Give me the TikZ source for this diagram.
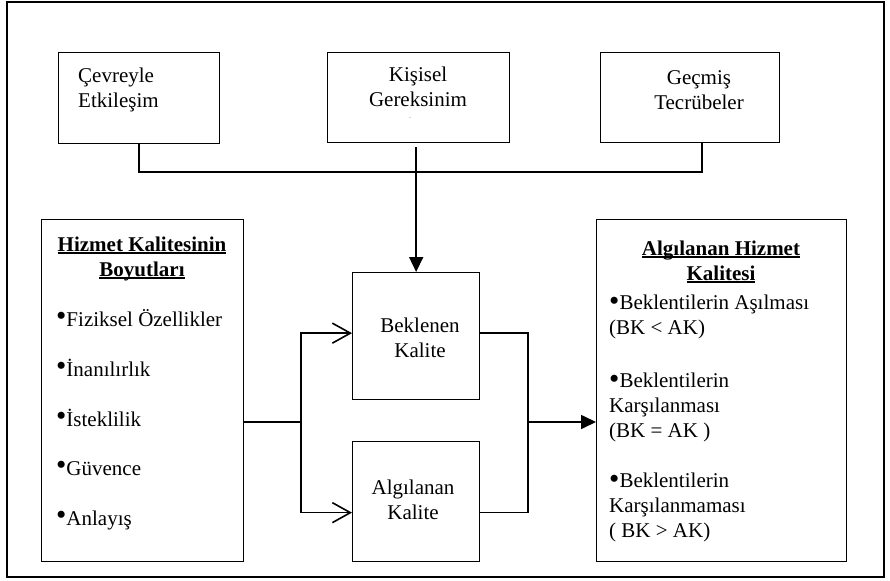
\documentclass[tikz,border=0pt]{standalone}
\usepackage{fontspec}
\setmainfont{Liberation Serif}
\usetikzlibrary{arrows.meta}
\tikzset{
  frame/.style={draw=black,line width=2pt},
  box/.style={draw=black,line width=1.3pt,rectangle,inner sep=0pt,anchor=north west},
  link/.style={draw=black,line width=1.6pt},
  label/.style={inner sep=0pt,font=\fontsize{21}{25}\selectfont},
  title/.style={inner sep=0pt,font=\fontsize{21}{25}\selectfont\bfseries},
  closedtip/.style={-{Triangle[length=15pt,width=14pt]}},
  opentip/.style={-{Straight Barb[length=18pt,width=20pt]}},
}
\newcommand\headul[1]{\setbox0=\hbox{#1}\rlap{\rule[-2.5pt]{\wd0}{1.3pt}}\box0}
\newcommand\itemdot{\raisebox{1pt}{\scalebox{1.4}{•}}}
\newcommand\resdot{\raisebox{-1.5pt}{\scalebox{1.4}{•}}}

\begin{document}
\begin{tikzpicture}[x=1pt,y=-1pt]
  \useasboundingbox (0,0) rectangle (890,580);
  \draw[frame] (7,2) rectangle (884,577);

  % top row (base anchor = last line)
  \node[box,minimum width=161pt,minimum height=91pt] (box_env) at (58,52) {};
  \node[box,minimum width=182pt,minimum height=90pt] (box_need) at (327,52) {};
  \node[box,minimum width=179pt,minimum height=90pt] (box_past) at (600,52) {};
  \node[label,anchor=base west,align=left] (txt_env) at (78,108) {Çevreyle\\Etkileşim};
  \node[label,anchor=base,align=center] (txt_need) at (418,107) {Kişisel\\Gereksinim};
  \node[inner sep=0pt,font=\fontsize{6}{6}\selectfont] (txt_need_dot) at (410,118) {.};
  \node[label,anchor=base,align=center] (txt_past) at (699,110) {Geçmiş\\Tecrübeler};

  % side boxes
  \node[box,minimum width=202pt,minimum height=342pt] (dims) at (41,219) {};
  \node[box,minimum width=250pt,minimum height=342pt] (result) at (596,219) {};

  % middle boxes
  \node[box,minimum width=127pt,minimum height=127pt] (expected) at (352,272) {};
  \node[box,minimum width=127pt,minimum height=120pt] (perceived) at (352,441) {};
  \node[label,anchor=base,align=center] (txt_expected) at (420,357) {Beklenen\\Kalite};
  \node[label,anchor=base,align=center] (txt_perceived) at (413,519) {Algılanan\\Kalite};

  % left list
  \node[title,anchor=base,align=center] (dims_title) at (142,276) {\headul{Hizmet Kalitesinin}\\\headul{Boyutları}};
  \foreach \dimtext/\ypos [count=\i] in {Fiziksel Özellikler/326, İnanılırlık/376, İsteklilik/426, Güvence/475, Anlayış/525} {
    \node[label,anchor=base west] (dim_\i) at (56,\ypos) {\itemdot\dimtext};
  }

  % right list
  \node[title,anchor=base,align=center] (result_title) at (721,280) {\headul{Algılanan Hizmet}\\\headul{Kalitesi}};
  \node[label,anchor=base west,align=left] (res_1) at (609,334) {\resdot Beklentilerin Aşılması\\(BK < AK)};
  \node[label,anchor=base west,align=left] (res_2) at (609,437) {\resdot Beklentilerin\\Karşılanması\\(BK = AK )};
  \node[label,anchor=base west,align=left] (res_3) at (609,537) {\resdot Beklentilerin\\Karşılanmaması\\( BK > AK)};

  % connectors
  \coordinate (bus_e) at (702,172);
  \coordinate (split_l) at (301,422);
  \coordinate (merge_r) at (528,422);

  \draw[link] (box_env.south) |- (bus_e) -- (bus_e |- box_past.south);
  \draw[link,closedtip] ([yshift=-4pt]box_need.south -| expected.north) -- (expected.north);

  \draw[link] (dims.east |- split_l) -- (split_l);
  \draw[link,opentip] (split_l) |- ([yshift=3pt]expected.west);
  \draw[link,opentip] (split_l) |- ([yshift=-11pt]perceived.west);

  \draw[link] ([yshift=3pt]expected.east) -| (merge_r) |- ([yshift=-11pt]perceived.east);
  \draw[link,closedtip] (merge_r) -- (merge_r -| result.west);
\end{tikzpicture}
\end{document}
